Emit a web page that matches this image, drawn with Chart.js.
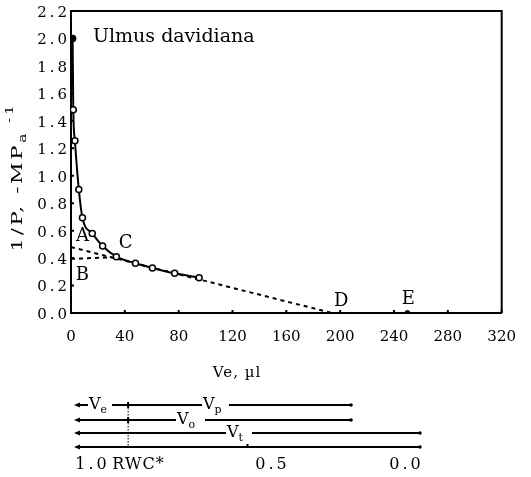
<!DOCTYPE html>
<html>
<head>
<meta charset="utf-8">
<script src="https://cdn.jsdelivr.net/npm/chart.js@4/dist/chart.umd.min.js"></script>
<style>
  html, body { margin: 0; padding: 0; background: #fff; }
  #wrap { width: 531px; height: 477px; }
</style>
</head>
<body>
<div id="wrap"><canvas id="chart" width="531" height="477"></canvas></div>
<script>
// measured points of the pressure-volume curve (Ve in µl, 1/P in -MPa^-1)
const curveVe = [1.2, 1.7, 2.9, 5.8, 8.5, 15.8, 23.5, 33.7, 47.9, 60.5, 77, 95.2];
const curveInvP = [2.0, 1.48, 1.255, 0.90, 0.694, 0.58, 0.488, 0.41, 0.362, 0.328, 0.289, 0.257];

// extrapolated straight part (A - C - D) and the line B - C
const lineAVe = [0, 194];
const lineAInvP = [0.48, 0];
const lineBVe = [0, 31];
const lineBInvP = [0.395, 0.405];

// point E on the x axis
const pointEVe = [250];
const pointEInvP = [0];

const xTicks = [0, 40, 80, 120, 160, 200, 240, 280, 320];
const yTicks = [0, 0.2, 0.4, 0.6, 0.8, 1.0, 1.2, 1.4, 1.6, 1.8, 2.0, 2.2];

// letters placed in data units
const letterLabels = ['A', 'B', 'C', 'D', 'E'];
const letterVe = [8.5, 8.5, 40.6, 200.8, 250.7];
const letterInvP = [0.556, 0.277, 0.508, 0.084, 0.098];

// RWC diagram under the chart
const rwcLabels = ['1.0', 'RWC*', '0.5', '0.0'];
const rwcStar = 0.846;
const rowEnds = [0.2, 0.2, 0.0, 0.0];

const SERIF = '"DejaVu Serif", "Liberation Serif", serif';

// draws a string made of pieces (main, subscript, superscript) with letter spacing
function drawPieces(ctx, pieces, x, y, spacing) {
    let cx = x;
    pieces.forEach(p => {
        ctx.font = p.size + 'px ' + SERIF;
        ctx.letterSpacing = spacing + 'px';
        ctx.fillText(p.t, cx, y + (p.dy || 0));
        cx += ctx.measureText(p.t).width;
    });
    return cx - x;
}
function piecesWidth(ctx, pieces, spacing) {
    let w = 0;
    pieces.forEach(p => {
        ctx.font = p.size + 'px ' + SERIF;
        ctx.letterSpacing = spacing + 'px';
        w += ctx.measureText(p.t).width;
    });
    return w;
}

const extras = {
    id: 'extras',
    beforeDraw(chart) {
        // spread out the y tick labels like the printed figure
        const sc = chart.scales.y;
        if (!sc._spaced) {
            const orig = sc.drawLabels.bind(sc);
            sc.drawLabels = function (area) {
                const ctx = chart.ctx;
                ctx.save();
                ctx.letterSpacing = '3px';
                ctx.translate(0, 2);
                orig(area);
                ctx.restore();
            };
            sc._spaced = true;
        }
    },
    afterDraw(chart) {
        const ctx = chart.ctx;
        const a = chart.chartArea;
        const xs = chart.scales.x, ys = chart.scales.y;
        ctx.save();
        ctx.fillStyle = '#000';
        ctx.strokeStyle = '#000';

        // top and right frame
        ctx.lineWidth = 2;
        ctx.beginPath();
        ctx.moveTo(a.left, a.top);
        ctx.lineTo(a.right, a.top);
        ctx.lineTo(a.right, a.bottom);
        ctx.stroke();

        // small inward ticks
        ctx.lineWidth = 2;
        ctx.beginPath();
        yTicks.forEach(v => {
            const py = ys.getPixelForValue(v);
            ctx.moveTo(a.left, py);
            ctx.lineTo(a.left + 3, py);
        });
        xTicks.forEach(v => {
            const px = xs.getPixelForValue(v);
            ctx.moveTo(px, a.bottom);
            ctx.lineTo(px, a.bottom - 3);
        });
        ctx.stroke();

        // letters A..E
        ctx.font = '18px ' + SERIF;
        ctx.textAlign = 'center';
        ctx.textBaseline = 'middle';
        letterLabels.forEach((l, i) => {
            ctx.fillText(l, xs.getPixelForValue(letterVe[i]), ys.getPixelForValue(letterInvP[i]));
        });

        // species name
        ctx.textAlign = 'left';
        ctx.textBaseline = 'alphabetic';
        ctx.font = '19px ' + SERIF;
        ctx.fillText('Ulmus davidiana', a.left + 22, a.top + 31);

        // x axis title
        const xt = [{ t: 'Ve, µl', size: 15 }];
        const xw = piecesWidth(ctx, xt, 1);
        drawPieces(ctx, xt, 237 - xw / 2, 377, 1);

        // y axis title, rotated and stretched along the text
        const yt = [
            { t: '1/P, -MP', size: 15 },
            { t: 'a', size: 11, dy: 4 },
            { t: ' -1', size: 11, dy: -9 }
        ];
        const yw = piecesWidth(ctx, yt, 2);
        ctx.save();
        ctx.translate(22, 177);
        ctx.rotate(-Math.PI / 2);
        ctx.scale(1.4, 1);
        drawPieces(ctx, yt, -yw / 2, 0, 2);
        ctx.restore();
        ctx.letterSpacing = '0px';

        // RWC diagram
        const rwcX = v => 75 + (1 - v) * 345;
        const rowY = [405, 420, 433, 447];
        ctx.lineWidth = 2;
        rowY.forEach((y, i) => {
            const x1 = rwcX(rowEnds[i]);
            ctx.beginPath();
            ctx.moveTo(78, y);
            ctx.lineTo(x1, y);
            ctx.stroke();
            // arrow head at the left, dot at the right
            ctx.beginPath();
            ctx.moveTo(74, y);
            ctx.lineTo(80, y - 2.5);
            ctx.lineTo(80, y + 2.5);
            ctx.closePath();
            ctx.fill();
            ctx.beginPath();
            ctx.arc(x1, y, 1.8, 0, Math.PI * 2);
            ctx.fill();
        });
        // labels sitting in gaps of the lines
        const vLabels = [
            { row: 0, x: 88, w: 24, sub: 'e' },
            { row: 0, x: 202, w: 27, sub: 'p' },
            { row: 1, x: 176, w: 29, sub: 'o' },
            { row: 2, x: 226, w: 26, sub: 't' }
        ];
        vLabels.forEach(v => {
            const y = rowY[v.row];
            ctx.fillStyle = '#fff';
            ctx.fillRect(v.x, y - 3, v.w, 6);
            ctx.fillStyle = '#000';
            drawPieces(ctx, [{ t: 'V', size: 16 }, { t: v.sub, size: 11, dy: 4 }], v.x + 1, y + 4, 0);
        });
        // dotted RWC* line
        const xs0 = rwcX(rwcStar);
        ctx.lineWidth = 1;
        ctx.setLineDash([1.5, 1.5]);
        ctx.beginPath();
        ctx.moveTo(xs0, rowY[0]);
        ctx.lineTo(xs0, rowY[3]);
        ctx.stroke();
        ctx.setLineDash([]);
        ctx.lineWidth = 2;
        ctx.beginPath();
        [0, 1].forEach(r => {
            ctx.moveTo(xs0, rowY[r] - 3);
            ctx.lineTo(xs0, rowY[r] + 3);
        });
        ctx.moveTo(rwcX(0.5), rowY[3] - 3);
        ctx.lineTo(rwcX(0.5), rowY[3]);
        ctx.stroke();

        // RWC scale labels
        const labelX = [91, 138, 271, 405];
        ctx.textBaseline = 'middle';
        rwcLabels.forEach((l, i) => {
            const sp = i === 1 ? 1 : 3;
            const w = piecesWidth(ctx, [{ t: l, size: 16 }], sp);
            drawPieces(ctx, [{ t: l, size: 16 }], labelX[i] - w / 2 + sp / 2, 465, sp);
        });
        ctx.restore();
    }
};

const pointFills = curveVe.map((v, i) => (i === 0 ? '#000' : '#fff'));

new Chart(document.getElementById('chart').getContext('2d'), {
    type: 'scatter',
    data: {
        datasets: [
            {
                data: curveVe.map((x, i) => ({ x: x, y: curveInvP[i] })),
                showLine: true,
                borderColor: '#000',
                borderWidth: 2,
                cubicInterpolationMode: 'monotone',
                pointRadius: 3,
                pointBorderWidth: 1.5,
                pointBorderColor: '#000',
                pointBackgroundColor: pointFills
            },
            {
                data: lineAVe.map((x, i) => ({ x: x, y: lineAInvP[i] })),
                showLine: true,
                borderColor: '#000',
                borderWidth: 2,
                borderDash: [4, 4],
                pointRadius: 0
            },
            {
                data: lineBVe.map((x, i) => ({ x: x, y: lineBInvP[i] })),
                showLine: true,
                borderColor: '#000',
                borderWidth: 2,
                borderDash: [4, 4],
                pointRadius: 0
            },
            {
                data: pointEVe.map((x, i) => ({ x: x, y: pointEInvP[i] })),
                pointRadius: 2.5,
                pointBackgroundColor: '#000',
                pointBorderColor: '#000'
            }
        ]
    },
    options: {
        responsive: false,
        animation: false,
        events: [],
        layout: { padding: { left: 0, top: 11, right: 21, bottom: 0 } },
        plugins: { legend: { display: false }, tooltip: { enabled: false } },
        scales: {
            x: {
                type: 'linear',
                min: 0,
                max: 320,
                afterBuildTicks: s => { s.ticks = xTicks.map(v => ({ value: v })); },
                afterFit: s => { s.height = 164; },
                grid: { display: false, drawTicks: false },
                border: { display: true, color: '#000', width: 2 },
                ticks: {
                    color: '#000',
                    padding: 15,
                    maxRotation: 0,
                    font: { family: SERIF, size: 15 }
                }
            },
            y: {
                min: 0,
                max: 2.2,
                afterBuildTicks: s => { s.ticks = yTicks.map(v => ({ value: v })); },
                afterFit: s => { s.width = 71; },
                grid: { display: false, drawTicks: false },
                border: { display: true, color: '#000', width: 2 },
                ticks: {
                    color: '#000',
                    padding: 1,
                    callback: v => v.toFixed(1),
                    font: { family: SERIF, size: 15 }
                }
            }
        }
    },
    plugins: [extras]
});
</script>
</body>
</html>
